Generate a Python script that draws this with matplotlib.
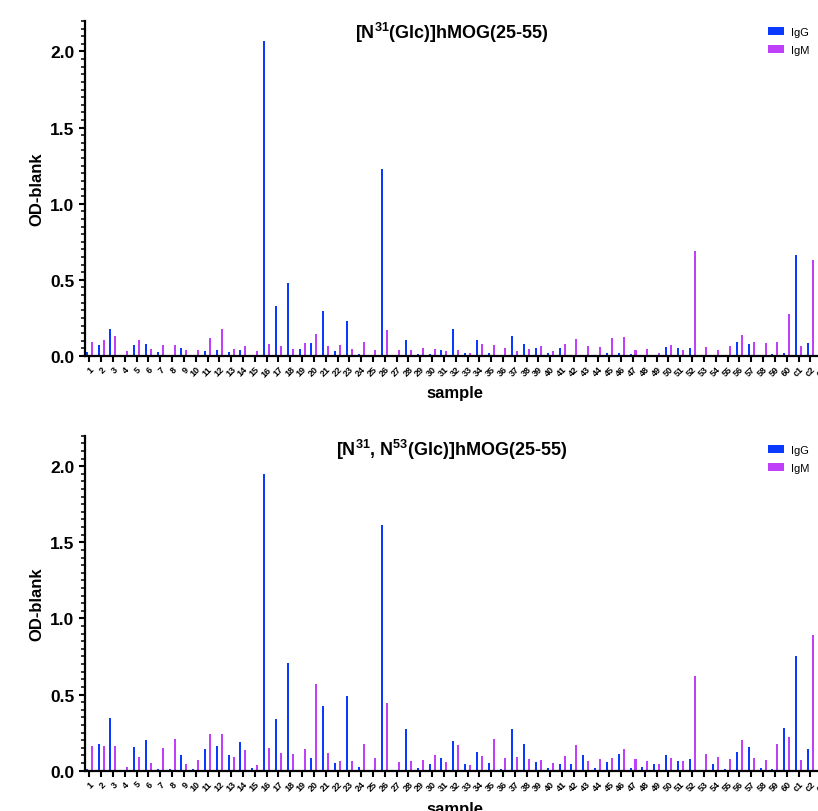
import numpy as np
import matplotlib
matplotlib.use('Agg')
import matplotlib.pyplot as plt
from matplotlib.ticker import MultipleLocator

plt.rcParams['font.family'] = ['Liberation Sans', 'DejaVu Sans']
plt.rcParams['mathtext.fontset'] = 'custom'
plt.rcParams['mathtext.rm'] = 'Liberation Sans'
plt.rcParams['mathtext.bf'] = 'Liberation Sans:bold'

samples = [str(i) for i in range(1, 61)] + ['c1', 'c2', 'c3']

# panel 1: [N31(Glc)]hMOG(25-55)
igg_1 = [0.024, 0.07, 0.18, 0.0, 0.07, 0.077, 0.024, 0.0, 0.05, 0.0,
         0.03, 0.037, 0.024, 0.037, 0.0, 2.07, 0.326, 0.477, 0.044, 0.083,
         0.293, 0.03, 0.228, 0.01, 0.0, 1.225, 0.0, 0.103, 0.01, 0.01,
         0.037, 0.175, 0.018, 0.103, 0.018, 0.0, 0.13, 0.077, 0.05, 0.018,
         0.05, 0.0, 0.0, 0.0, 0.018, 0.018, 0.01, 0.0, 0.0, 0.057,
         0.05, 0.05, 0.0, 0.0, 0.0, 0.09, 0.077, 0.0, 0.01, 0.018,
         0.663, 0.083, 0.05]
igm_1 = [0.09, 0.103, 0.13, 0.03, 0.103, 0.044, 0.07, 0.07, 0.037, 0.037,
         0.12, 0.18, 0.044, 0.063, 0.03, 0.077, 0.063, 0.044, 0.083, 0.142,
         0.063, 0.07, 0.044, 0.09, 0.037, 0.168, 0.037, 0.037, 0.05, 0.044,
         0.03, 0.037, 0.018, 0.077, 0.07, 0.05, 0.03, 0.044, 0.063, 0.03,
         0.077, 0.11, 0.063, 0.057, 0.116, 0.123, 0.037, 0.044, 0.018, 0.07,
         0.037, 0.69, 0.057, 0.037, 0.063, 0.136, 0.09, 0.083, 0.09, 0.273,
         0.063, 0.63, 0.05]

# panel 2: [N31, N53(Glc)]hMOG(25-55)
igg_2 = [0.011, 0.175, 0.346, 0.004, 0.155, 0.2, 0.011, 0.011, 0.103, 0.011,
         0.142, 0.162, 0.103, 0.188, 0.018, 1.95, 0.34, 0.708, 0.004, 0.083,
         0.425, 0.05, 0.49, 0.024, 0.004, 1.616, 0.004, 0.273, 0.018, 0.044,
         0.083, 0.195, 0.044, 0.123, 0.05, 0.011, 0.273, 0.175, 0.057, 0.018,
         0.044, 0.044, 0.103, 0.018, 0.057, 0.109, 0.018, 0.024, 0.044, 0.103,
         0.063, 0.077, 0.004, 0.044, 0.011, 0.123, 0.155, 0.018, 0.011, 0.28,
         0.755, 0.142, 0.05]
igm_2 = [0.162, 0.162, 0.162, 0.024, 0.09, 0.05, 0.149, 0.208, 0.044, 0.07,
         0.24, 0.24, 0.09, 0.136, 0.037, 0.149, 0.116, 0.109, 0.142, 0.569,
         0.116, 0.063, 0.063, 0.175, 0.083, 0.444, 0.057, 0.063, 0.07, 0.103,
         0.057, 0.168, 0.037, 0.096, 0.208, 0.083, 0.09, 0.077, 0.07, 0.05,
         0.096, 0.168, 0.063, 0.077, 0.083, 0.142, 0.077, 0.063, 0.044, 0.083,
         0.063, 0.624, 0.109, 0.09, 0.077, 0.2, 0.083, 0.07, 0.175, 0.221,
         0.07, 0.893, 0.05]

titles = [r'[N$^{\mathbf{31}}$(Glc)]hMOG(25-55)',
          r'[N$^{\mathbf{31}}$, N$^{\mathbf{53}}$(Glc)]hMOG(25-55)']

BLUE = '#0A3AFF'
PURPLE = '#C03FFB'
W, H = 818, 812

fig = plt.figure(figsize=(W / 100, H / 100), dpi=100)
x = np.arange(1, len(samples) + 1)
step = 11.82  # pixels per sample


def panel(y_zero, igg, igm, title, title_y, legend_y, xlab_off):
    ax = fig.add_axes([85 / W, 1 - y_zero / H, (835 - 85) / W, 335 / H])
    ax.bar(x - 0.21, igg, width=0.17, color=BLUE, label='IgG')
    ax.bar(x + 0.21, igm, width=0.17, color=PURPLE, label='IgM')
    ax.set_xlim(1 - 4.3 / step, 1 + (835 - 89.3) / step)
    ax.set_ylim(0, 2.2)
    ax.yaxis.set_major_locator(MultipleLocator(0.5))
    ax.yaxis.set_minor_locator(MultipleLocator(0.05))
    ax.yaxis.set_major_formatter(matplotlib.ticker.FormatStrFormatter('%.1f'))
    ax.set_xticks(x)
    ax.set_xticklabels(samples, rotation=45, ha='right', rotation_mode='anchor',
                       fontsize=6.5, fontweight='bold')
    for s in ['top', 'right']:
        ax.spines[s].set_visible(False)
    for s in ['left', 'bottom']:
        ax.spines[s].set_linewidth(1.6)
    ax.tick_params(axis='y', which='major', length=4.5, width=1.5, labelsize=12.5, pad=3)
    ax.tick_params(axis='y', which='minor', length=2.8, width=1.1)
    ax.tick_params(axis='x', which='major', length=4, width=1.5, pad=2)
    for lab in ax.get_yticklabels():
        lab.set_fontweight('bold')
    ax.set_ylabel('OD-blank', fontsize=12, fontweight='bold')
    ax.yaxis.set_label_coords(-41 / 750, 0.5)
    ax.set_xlabel('sample', fontsize=12, fontweight='bold', va='top')
    ax.xaxis.set_label_coords((455 - 85) / 750, -xlab_off / 335)
    fig.text(452 / W, 1 - title_y / H, title, ha='center', va='center',
             fontsize=13, fontweight='bold')
    ax.legend(loc='upper left', bbox_to_anchor=(768 / W, 1 - legend_y / H),
              bbox_transform=fig.transFigure, frameon=False, fontsize=8,
              handlelength=1.45, handleheight=0.72, handletextpad=0.6,
              labelspacing=0.75, borderpad=0, borderaxespad=0)
    return ax


panel(357, igg_1, igm_1, titles[0], 33, 28, 29)
panel(771.7, igg_2, igm_2, titles[1], 450, 446, 30)

fig.savefig('out.png', dpi=100)
